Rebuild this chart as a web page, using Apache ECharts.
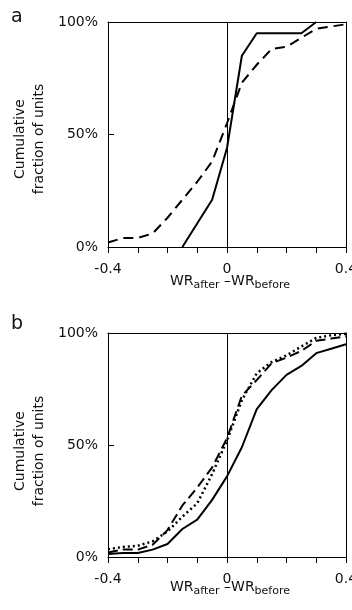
<!DOCTYPE html>
<html>
<head>
<meta charset="utf-8">
<script src="https://cdn.jsdelivr.net/npm/echarts@6/dist/echarts.min.js"></script>
<style>
  html, body { margin: 0; padding: 0; background: #fff; }
  #chart { width: 352px; height: 610px; }
</style>
</head>
<body>
<div id="chart"></div>
<script>
const FONT = 'DejaVu Sans'
const INK = '#111'

// panel a
const aSolid = [[-0.15, 0], [-0.05, 21], [0, 44], [0.05, 85], [0.1, 95], [0.25, 95], [0.3, 100]]
const aDashed = [[-0.4, 2], [-0.35, 4], [-0.3, 4], [-0.25, 6], [-0.2, 13], [-0.15, 21], [-0.1, 29], [-0.05, 38],
  [0, 55], [0.05, 73], [0.1, 81], [0.15, 88], [0.2, 89], [0.25, 93], [0.3, 97], [0.4, 99]]

// panel b
const bSolid = [[-0.4, 1.3], [-0.35, 1.8], [-0.3, 1.8], [-0.25, 3.3], [-0.2, 5.8], [-0.15, 12.5], [-0.1, 16.7],
  [-0.05, 25.5], [0, 36], [0.05, 49], [0.1, 66], [0.15, 74.5], [0.2, 81.3], [0.25, 85.3], [0.3, 91], [0.35, 93], [0.4, 95]]
const bDashed = [[-0.4, 2], [-0.35, 3.3], [-0.3, 3.3], [-0.25, 5.5], [-0.2, 12], [-0.15, 23], [-0.1, 31], [-0.05, 40],
  [0, 53], [0.05, 72], [0.1, 79], [0.15, 86.5], [0.2, 89], [0.25, 92], [0.3, 96.5], [0.35, 97.5], [0.4, 98.5]]
const bDotted = [[-0.4, 3.5], [-0.35, 4.5], [-0.3, 5], [-0.25, 7], [-0.2, 11.4], [-0.15, 18], [-0.1, 24], [-0.05, 37],
  [0, 52], [0.05, 70], [0.1, 82], [0.15, 87], [0.2, 90], [0.25, 94], [0.3, 97.8], [0.35, 99], [0.4, 99.7]]

const xTickLabels = ['-0.4', '0', '0.4']
const yTickLabels = ['0%', '50%', '100%']
const panelLetters = ['a', 'b']
const xTitle = '{m|WR}{s|after}{m| –WR}{s|before}'
const yTitle = 'Cumulative\nfraction of units'

const chart = echarts.init(document.getElementById('chart'))

function xAxis(gridIndex) {
  return {
    type: 'value', gridIndex, min: -0.4, max: 0.4, splitNumber: 8, position: 'bottom',
    axisLine: { show: true, onZero: false, lineStyle: { color: '#000', width: 1 } },
    axisTick: { show: true, length: 6, lineStyle: { color: '#000', width: 1 } },
    splitLine: { show: false },
    axisLabel: {
      show: true, color: INK, fontFamily: FONT, fontSize: 14, margin: 15,
      formatter: v => {
        const s = (Math.round(v * 10) / 10).toString()
        return xTickLabels.includes(s) ? s : ''
      }
    }
  }
}

// top / right edges of the frame
function frameAxis(gridIndex, position, isX) {
  const ax = {
    type: 'value', gridIndex, position,
    axisLine: { show: true, onZero: false, lineStyle: { color: '#000', width: 1 } },
    axisTick: { show: false }, axisLabel: { show: false }, splitLine: { show: false }
  }
  if (isX) { ax.min = -0.4; ax.max = 0.4 } else { ax.min = 0; ax.max = 100 }
  return ax
}

function yAxis(gridIndex, useTemplate) {
  return {
    type: 'value', gridIndex, min: 0, max: 100, splitNumber: 2, position: 'left',
    axisLine: { show: true, onZero: false, lineStyle: { color: '#000', width: 1 } },
    axisTick: { show: true, inside: true, length: 6, lineStyle: { color: '#000', width: 1 } },
    splitLine: { show: false },
    axisLabel: {
      show: true, color: INK, fontFamily: FONT, fontSize: 14, margin: 10,
      formatter: useTemplate ? '{value}%' : (v => yTickLabels[Math.round(v / 50)])
    }
  }
}

function line(name, data, grid, type, width, zero) {
  const s = {
    type: 'line', name, data, xAxisIndex: grid * 2, yAxisIndex: grid * 2,
    symbol: 'none', silent: true, clip: true,
    lineStyle: { color: '#000', width, type, cap: 'butt' }
  }
  if (zero) {
    s.markLine = {
      silent: true, symbol: ['none', 'none'], label: { show: false },
      lineStyle: { color: '#000', width: 1, type: 'solid' },
      data: [{ xAxis: 0 }]
    }
  }
  return s
}

const richName = {
  m: { fontFamily: FONT, fontSize: 14, fill: INK, verticalAlign: 'top' },
  s: { fontFamily: FONT, fontSize: 11, fill: INK, verticalAlign: 'top', padding: [6, 0, 0, 0] }
}

function titles(yCenter, xTop) {
  return [
    {
      type: 'text', x: 30, y: yCenter, rotation: Math.PI / 2,
      style: { text: yTitle, font: '14px "DejaVu Sans"', lineHeight: 19, fill: INK, align: 'center', verticalAlign: 'middle' }
    },
    {
      type: 'text', x: 230, y: xTop,
      style: { text: xTitle, rich: richName, fill: INK, align: 'center', verticalAlign: 'top' }
    }
  ]
}

chart.setOption({
  animation: false,
  grid: [
    { left: 108, top: 22, width: 238, height: 225, outerBoundsMode: 'none' },
    { left: 108, top: 333, width: 238, height: 224, outerBoundsMode: 'none' }
  ],
  xAxis: [xAxis(0), frameAxis(0, 'top', true), xAxis(1), frameAxis(1, 'top', true)],
  yAxis: [yAxis(0, false), frameAxis(0, 'right', false), yAxis(1, true), frameAxis(1, 'right', false)],
  graphic: [
    { type: 'text', left: 11, top: 8, style: { text: panelLetters[0], font: '19px "DejaVu Sans"', fill: INK } },
    { type: 'text', left: 11, top: 315, style: { text: panelLetters[1], font: '19px "DejaVu Sans"', fill: INK } }
  ].concat(titles(139, 274), titles(451, 580)),
  series: [
    line('a solid', aSolid, 0, 'solid', 2, true),
    line('a dashed', aDashed, 0, [10, 6], 2, false),
    line('b solid', bSolid, 1, 'solid', 2, true),
    line('b dashed', bDashed, 1, [10, 5], 2, false),
    line('b dotted', bDotted, 1, [2, 3], 2.5, false)
  ]
})
</script>
</body>
</html>
